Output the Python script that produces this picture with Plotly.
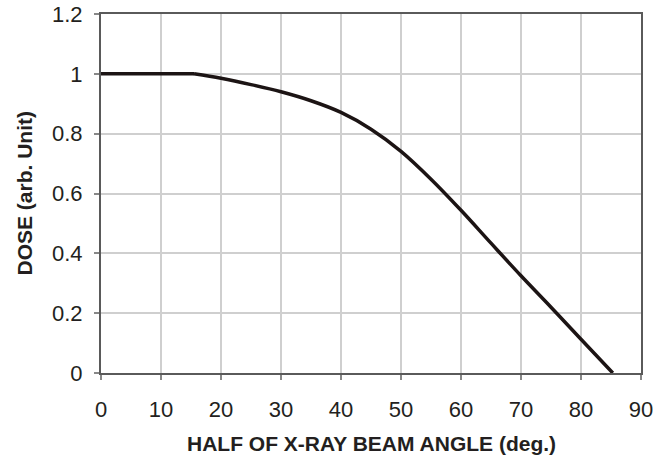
import plotly.graph_objects as go

# Data
angle_deg = [0, 15.5, 20, 25, 30, 35, 40, 45, 50, 55, 60, 65, 70, 75, 80, 85.3]
dose = [1.0, 1.0, 0.985, 0.964, 0.94, 0.91, 0.871, 0.815, 0.741, 0.648, 0.544, 0.434, 0.325, 0.22, 0.113, 0.0]

x_ticks = [0, 10, 20, 30, 40, 50, 60, 70, 80, 90]
y_ticks = [0, 0.2, 0.4, 0.6, 0.8, 1.0, 1.2]
y_ticktext = ["0", "0.2", "0.4", "0.6", "0.8", "1", "1.2"]

x_title = "HALF OF X-RAY BEAM ANGLE (deg.)"
y_title = "DOSE (arb. Unit)"

line_style = dict(color="#1c1414", width=3.5)

fig = go.Figure()
# flat plateau (straight)
fig.add_trace(go.Scatter(
    x=angle_deg[:2], y=dose[:2], mode="lines",
    line=dict(**line_style, shape="linear"),
    showlegend=False, hoverinfo="skip",
))
# falling part (smooth)
fig.add_trace(go.Scatter(
    x=angle_deg[1:], y=dose[1:], mode="lines",
    line=dict(**line_style, shape="spline", smoothing=1.0),
    showlegend=False, hoverinfo="skip",
))

tick_font = dict(family="Liberation Sans, Arial, sans-serif", size=22, color="#231f20")
title_font = dict(family="Liberation Sans, Arial, sans-serif", size=21, color="#231f20")

fig.update_layout(
    width=670, height=459,
    margin=dict(l=101, r=29, t=14, b=86, autoexpand=False),
    paper_bgcolor="white", plot_bgcolor="white",
    xaxis=dict(
        range=[0, 90], tickvals=x_ticks, ticks="outside", ticklen=5, tickwidth=1.5,
        tickcolor="#888888", showgrid=True, gridcolor="#cfcfcf", gridwidth=1.5,
        showline=True, linecolor="#5a5a5a", linewidth=2, mirror=True,
        tickfont=tick_font, ticklabelstandoff=11, zeroline=False, automargin=False,
        ticklabeloverflow="allow",
    ),
    yaxis=dict(
        range=[0, 1.2], tickvals=y_ticks, ticktext=y_ticktext, ticks="outside", ticklen=5,
        tickwidth=1.5, tickcolor="#888888", showgrid=True, gridcolor="#cfcfcf", gridwidth=1.5,
        showline=True, linecolor="#5a5a5a", linewidth=2, mirror=True,
        tickfont=tick_font, ticklabelstandoff=7, zeroline=False, automargin=False,
        ticklabeloverflow="allow",
    ),
    annotations=[
        dict(text="<b>" + x_title + "</b>", xref="paper", yref="paper", x=0.5, y=0,
             xanchor="center", yanchor="middle", yshift=-70, showarrow=False, font=title_font),
        dict(text="<b>" + y_title + "</b>", xref="paper", yref="paper", x=0, y=0.5,
             xanchor="center", yanchor="middle", xshift=-77, textangle=-90,
             showarrow=False, font=title_font),
    ],
)

fig.write_html("out.html", config={"displayModeBar": False},
               post_script="document.body.style.margin='0';")
